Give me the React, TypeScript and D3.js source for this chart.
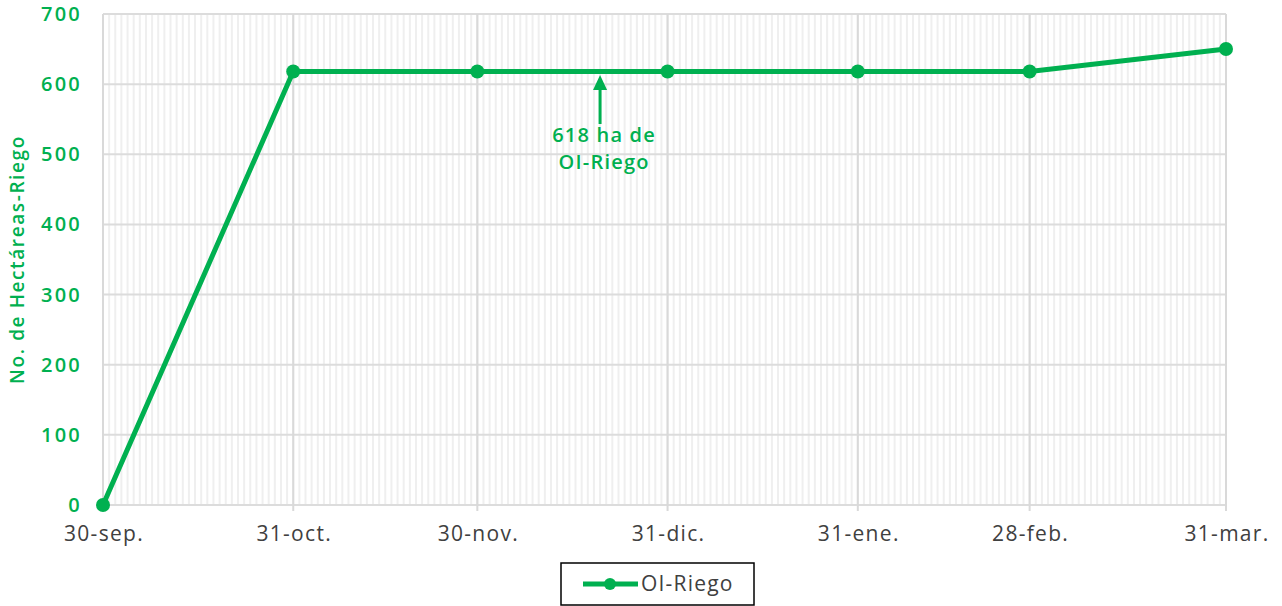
import React from "react";
import * as d3 from "d3";

const dates = ["2023-09-30", "2023-10-31", "2023-11-30", "2023-12-31", "2024-01-31", "2024-02-28", "2024-03-31"];
const tickLabels = ["30-sep.", "31-oct.", "30-nov.", "31-dic.", "31-ene.", "28-feb.", "31-mar."];
const values = [0, 618, 618, 618, 618, 618, 650];
const yTicks = [0, 100, 200, 300, 400, 500, 600, 700];
const seriesName = "OI-Riego";
const annotationDate = "2023-12-20";
const annotationLines = ["618 ha de", "OI-Riego"];

const W = 1282, H = 606;
const left = 103, right = 1226, top = 14, bottom = 505;
const GREEN = "#00B050";
const FONT = "'Open Sans', 'Noto Sans', sans-serif";

export default function App() {
  const parse = d3.utcParse("%Y-%m-%d");
  const ds = dates.map((d) => parse(d) as Date);
  const x = d3.scaleUtc().domain([ds[0], ds[ds.length - 1]]).range([left, right]);
  const y = d3.scaleLinear().domain([0, 700]).range([bottom, top]);
  const days = d3.utcDay.range(ds[0], d3.utcDay.offset(ds[ds.length - 1], 1));
  const line = d3.line<number>().x((_, i) => x(ds[i])).y((v) => y(v));
  const ax = x(parse(annotationDate) as Date);
  return (
    <svg width={W} height={H} style={{ position: "absolute", left: 0, top: 0, background: "#fff" }} fontFamily={FONT}>
      {days.map((d, i) => (
        <line key={"m" + i} x1={x(d)} x2={x(d)} y1={top} y2={bottom} stroke="#efefef" strokeWidth={2} />
      ))}
      {yTicks.map((t) => (
        <line key={"h" + t} x1={left} x2={right} y1={y(t)} y2={y(t)} stroke="#dcdcdc" strokeWidth={2} />
      ))}
      {ds.map((d, i) => (
        <line key={"v" + i} x1={x(d)} x2={x(d)} y1={top} y2={bottom + 6} stroke="#d9d9d9" strokeWidth={2} />
      ))}
      {yTicks.map((t) => (
        <text key={"yt" + t} x={82} y={y(t)} dy="0.35em" textAnchor="end" fill={GREEN} fontSize={20} fontWeight={600} letterSpacing={2.2}>
          {t}
        </text>
      ))}
      {ds.map((d, i) => (
        <text key={"xt" + i} x={x(d) + 1} y={541} textAnchor="middle" fill="#404040" fontSize={21} letterSpacing={1.3}>
          {tickLabels[i]}
        </text>
      ))}
      <text transform={`translate(24,${(top + bottom) / 2}) rotate(-90)`} textAnchor="middle" fill={GREEN} fontSize={19} fontWeight={600} letterSpacing={1.6}>
        No. de Hectáreas-Riego
      </text>
      <path d={line(values) || ""} fill="none" stroke={GREEN} strokeWidth={5} strokeLinejoin="round" />
      {values.map((v, i) => (
        <circle key={"c" + i} cx={x(ds[i])} cy={y(v)} r={7} fill={GREEN} />
      ))}
      <line x1={ax} x2={ax} y1={124} y2={86} stroke={GREEN} strokeWidth={3} />
      <path d={`M${ax - 7},${90} L${ax + 7},${90} L${ax},${75} Z`} fill={GREEN} />
      {annotationLines.map((t, i) => (
        <text key={"a" + i} x={ax + 4} y={142 + i * 27} textAnchor="middle" fill={GREEN} fontSize={20} fontWeight={600} letterSpacing={1.2}>
          {t}
        </text>
      ))}
      <rect x={561} y={563} width={193} height={42} fill="#fff" stroke="#000" strokeWidth={1.5} />
      <line x1={583} x2={638} y1={584} y2={584} stroke={GREEN} strokeWidth={5} />
      <circle cx={610} cy={584} r={6} fill={GREEN} />
      <text x={641} y={584} dy="0.35em" fill="#404040" fontSize={21} letterSpacing={1.2}>{seriesName}</text>
    </svg>
  );
}
